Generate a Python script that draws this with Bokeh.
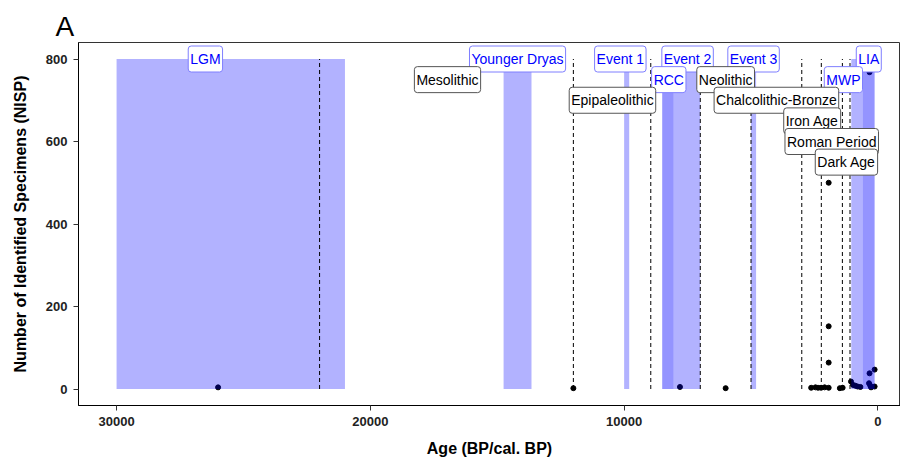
from bokeh.plotting import figure
from bokeh.models import Range1d, FixedTicker, Label, Title
from bokeh.embed import file_html
from bokeh.resources import INLINE

# ---- data ----
ages = [26000, 12000, 7800, 6000, 2630, 2460, 2360, 2240, 2100, 1940, 1940, 1940, 1940,
        1500, 1390, 1060, 980, 890, 800, 690, 350, 270, 300, 330, 130, 330, 130]
nisp = [4, 2, 5, 2, 3, 4, 3, 3, 4, 500, 152, 64, 3,
        2, 3, 18, 10, 8, 6, 5, 14, 4, 8, 38, 47, 768, 6]

band_names = ["LGM", "Younger Dryas", "Event 1", "RCC", "Event 2", "Event 3", "MWP", "LIA"]
band_start = [30000, 14750, 10000, 8500, 8050, 5000, 1050, 600]
band_end = [21000, 13650, 9800, 8050, 7000, 4800, 600, 130]

period_lines = [22000, 12000, 8950, 7000, 5000, 3000, 2230, 1400, 1100]

climate_labels = ["LGM", "Younger Dryas", "Event 1", "Event 2", "Event 3", "LIA", "RCC", "MWP"]
climate_label_x = [26500, 14200, 10150, 7500, 4900, 360, 8240, 1360]
climate_label_y = [800, 800, 800, 800, 800, 800, 750, 750]

period_labels = ["Mesolithic", "Neolithic", "Epipaleolithic", "Chalcolithic-Bronze",
                 "Iron Age", "Roman Period", "Dark Age"]
period_label_x = [16960, 6000, 10460, 4000, 2590, 1820, 1240]
period_label_y = [750, 750, 700, 700, 650, 600, 550]

x_ticks = [30000, 20000, 10000, 0]
y_ticks = [0, 200, 400, 600, 800]

FONT = "Liberation Sans"

p = figure(width=900, height=462, output_backend="svg", toolbar_location=None,
           x_range=Range1d(31500, -890), y_range=Range1d(-40, 840),
           min_border_left=78, min_border_right=0, min_border_top=42, min_border_bottom=57,
           background_fill_color="white", border_fill_color="white")
p.title = Title(text="A", align="left", offset=-23, text_font_size="28px",
                text_font_style="normal", text_font=FONT, standoff=2, text_color="black")

p.xgrid.visible = False
p.ygrid.visible = False
p.outline_line_color = "#333333"
p.outline_line_width = 1

# points (under bands so they tint)
p.scatter(ages, nisp, size=5, color="black")

# climate bands
ymax = max(y_ticks)
dark = {"RCC", "LIA"}
for name, s, e in zip(band_names, band_start, band_end):
    p.quad(left=s, right=e, bottom=0, top=ymax, fill_color="blue",
           fill_alpha=0.42 if name in dark else 0.3, line_color=None)

# period lines
p.segment(x0=period_lines, x1=period_lines, y0=[0] * len(period_lines),
          y1=[ymax] * len(period_lines), line_color="black", line_width=1,
          line_dash="4 3")

# labels
for t, x, y in zip(climate_labels, climate_label_x, climate_label_y):
    p.add_layout(Label(x=x, y=y, text=t, text_align="center", text_baseline="middle",
                       text_font=FONT, text_font_size="14px", text_color="blue",
                       background_fill_color="white", border_line_color="#7f7fff",
                       border_line_width=1, padding=(2, 5), border_radius=3))
for t, x, y in zip(period_labels, period_label_x, period_label_y):
    p.add_layout(Label(x=x, y=y, text=t, text_align="center", text_baseline="middle",
                       text_font=FONT, text_font_size="14px", text_color="black",
                       background_fill_color="white", border_line_color="#555555",
                       border_line_width=1, padding=(2, 5), border_radius=3))

# axes
for ax in (p.xaxis[0], p.yaxis[0]):
    ax.axis_line_color = "black"
    ax.axis_line_width = 1
    ax.major_tick_line_color = "#333333"
    ax.major_tick_in = 0
    ax.major_tick_out = 5
    ax.minor_tick_line_color = None
    ax.major_label_text_font = FONT
    ax.major_label_text_font_style = "bold"
    ax.major_label_text_font_size = "13px"
    ax.major_label_text_color = "#222222"
    ax.axis_label_text_font = FONT
    ax.axis_label_text_font_style = "bold"
    ax.axis_label_text_font_size = "16px"
    ax.axis_label_text_color = "black"

p.xaxis.ticker = FixedTicker(ticks=x_ticks)
p.yaxis.ticker = FixedTicker(ticks=y_ticks)
p.xaxis.axis_label = "Age (BP/cal. BP)"
p.yaxis.axis_label = "Number of Identified Specimens (NISP)"
p.xaxis.major_label_standoff = 6
p.yaxis.major_label_standoff = 6
p.xaxis.axis_label_standoff = 11
p.yaxis.axis_label_standoff = 14

open("out.html", "w").write(file_html(p, INLINE))
